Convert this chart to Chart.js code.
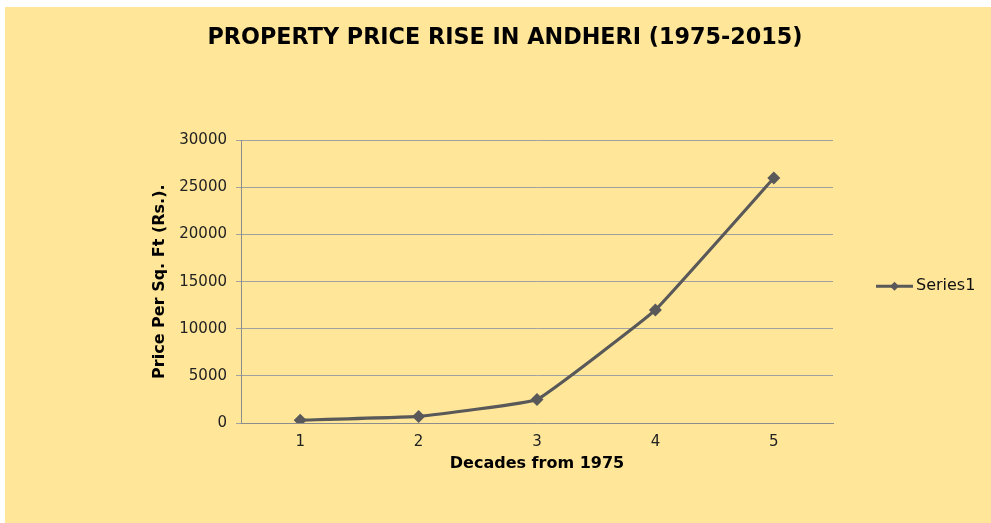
<!DOCTYPE html>
<html>
<head>
<meta charset="utf-8">
<script src="https://cdn.jsdelivr.net/npm/chart.js@4"></script>
<style>
  html, body { margin: 0; padding: 0; background: #ffffff; }
  #wrap {
    position: absolute;
    left: 5px; top: 7px;
    width: 986px; height: 516px;
    background: #ffe699;
  }
</style>
</head>
<body>
<div id="wrap"><canvas id="myChart"></canvas></div>
<script>
// data
const decades = ['1', '2', '3', '4', '5'];
const pricePerSqFt = [300, 700, 2500, 12000, 26000];
const yTickValues = [0, 5000, 10000, 15000, 20000, 25000, 30000];
const seriesName = 'Series1';

const lineColor = '#595959';

// Excel style legend: line with a diamond in the middle
const sideLegend = {
  id: 'sideLegend',
  afterDraw(chart) {
    const ctx = chart.ctx;
    const area = chart.chartArea;
    const ds = chart.data.datasets[0];
    const x0 = area.right + 43;
    const y = (area.top + area.bottom) / 2 + 4.5;
    ctx.save();
    ctx.strokeStyle = ds.borderColor;
    ctx.lineWidth = 3;
    ctx.beginPath();
    ctx.moveTo(x0, y);
    ctx.lineTo(x0 + 37, y);
    ctx.stroke();
    ctx.fillStyle = ds.pointBackgroundColor;
    const cx = x0 + 18.5, r = 4.5;
    ctx.beginPath();
    ctx.moveTo(cx, y - r);
    ctx.lineTo(cx + r, y);
    ctx.lineTo(cx, y + r);
    ctx.lineTo(cx - r, y);
    ctx.closePath();
    ctx.fill();
    ctx.fillStyle = '#111';
    ctx.font = '16px "DejaVu Sans"';
    ctx.textAlign = 'left';
    ctx.textBaseline = 'middle';
    ctx.fillText(ds.label, x0 + 40, y);
    ctx.restore();
  }
};

const ctx = document.getElementById('myChart').getContext('2d');
const myChart = new Chart(ctx, {
  type: 'line',
  data: {
    labels: decades,
    datasets: [{
      label: seriesName,
      data: pricePerSqFt,
      borderColor: lineColor,
      borderWidth: 3.2,
      pointStyle: 'rectRot',
      pointRadius: 6.5,
      pointBackgroundColor: lineColor,
      pointBorderColor: lineColor,
      pointBorderWidth: 0,
      tension: 0.08
    }]
  },
  options: {
    responsive: true,
    maintainAspectRatio: false,
    animation: false,
    layout: { padding: { left: 14, right: 0, top: 0, bottom: 0 } },
    plugins: {
      legend: { display: false },
      tooltip: { enabled: false },
      title: {
        display: true,
        text: 'PROPERTY PRICE RISE IN ANDHERI (1975-2015)',
        color: '#000',
        font: { family: '"DejaVu Sans"', size: 22.3, weight: 'bold' },
        padding: { top: 17.6, bottom: 89 }
      }
    },
    scales: {
      x: {
        offset: true,
        grid: { display: false },
        border: { display: true, color: '#8c8c8c', width: 1 },
        ticks: {
          color: '#222',
          padding: 2,
          font: { family: '"DejaVu Sans"', size: 15 }
        },
        title: {
          display: true,
          text: 'Decades from 1975',
          color: '#000',
          font: { family: '"DejaVu Sans"', size: 16, weight: 'bold' },
          padding: { top: 0, bottom: 50 }
        },
        afterFit(scale) { scale.height = 100; }
      },
      y: {
        min: 0,
        max: 30000,
        afterBuildTicks(scale) {
          scale.ticks = yTickValues.map(v => ({ value: v }));
        },
        grid: { color: '#a0a0a0', lineWidth: 1, tickLength: 5 },
        border: { display: true, color: '#8c8c8c', width: 1 },
        ticks: {
          color: '#222',
          padding: 9,
          font: { family: '"DejaVu Sans"', size: 15 },
          callback: v => String(v)
        },
        title: {
          display: true,
          text: 'Price Per Sq. Ft (Rs.).',
          color: '#000',
          font: { family: '"DejaVu Sans"', size: 16, weight: 'bold' },
          padding: { top: 131, bottom: 0 }
        },
        afterFit(scale) { scale.width = 222; }
      },
      // empty right-hand strip that leaves room for the legend
      legendSpace: {
        position: 'right',
        min: 0,
        max: 30000,
        grid: { display: false, drawOnChartArea: false },
        border: { display: false },
        ticks: { display: false },
        afterFit(scale) { scale.width = 158; }
      }
    }
  },
  plugins: [sideLegend]
});
</script>
</body>
</html>
